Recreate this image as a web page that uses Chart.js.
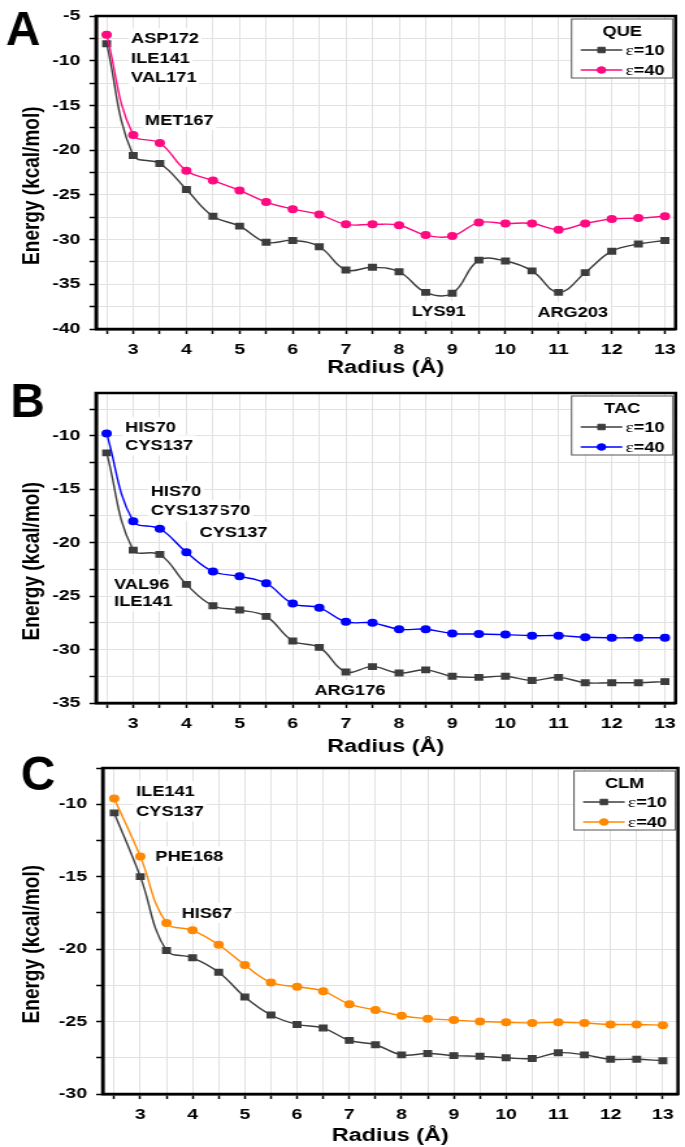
<!DOCTYPE html>
<html>
<head>
<meta charset="utf-8">
<script src="https://cdn.jsdelivr.net/npm/chart.js@4.4.1/dist/chart.umd.min.js"></script>
<style>
  html, body { margin: 0; padding: 0; background: #fff; }
  #wrap { position: relative; width: 685px; height: 1147px; overflow: hidden; }
  canvas { position: absolute; left: 0; }
</style>
</head>
<body>
<div id="wrap">
  <canvas id="chartA"></canvas>
  <canvas id="chartB"></canvas>
  <canvas id="chartC"></canvas>
</div>
<script>
// radius values (Å) shared by all three panels
const radius = [2.5, 3, 3.5, 4, 4.5, 5, 5.5, 6, 6.5, 7, 7.5, 8, 8.5, 9, 9.5, 10, 10.5, 11, 11.5, 12, 12.5, 13];
const legendLabels = ['ε=10', 'ε=40'];

// Panel A - QUE
const queE10 = [-8.1, -20.6, -21.5, -24.4, -27.4, -28.5, -30.3, -30.1, -30.8, -33.4, -33.1, -33.6, -35.9, -36.0, -32.3, -32.4, -33.5, -35.9, -33.7, -31.3, -30.5, -30.1];
const queE40 = [-7.1, -18.3, -19.2, -22.3, -23.4, -24.5, -25.8, -26.6, -27.2, -28.3, -28.3, -28.4, -29.5, -29.6, -28.1, -28.2, -28.2, -28.9, -28.2, -27.7, -27.6, -27.4];
const queNotes = [
    { text: 'ASP172', x: 2.96, y: -7.5 },
    { text: 'ILE141', x: 2.96, y: -9.7 },
    { text: 'VAL171', x: 2.96, y: -11.8 },
    { text: 'MET167', x: 3.22, y: -16.6 },
    { text: 'LYS91', x: 8.24, y: -38.0 },
    { text: 'ARG203', x: 10.6, y: -38.1 }
];

// Panel B - TAC
const tacE10 = [-11.6, -20.7, -21.1, -23.9, -25.9, -26.3, -26.9, -29.2, -29.8, -32.1, -31.6, -32.2, -31.9, -32.5, -32.6, -32.5, -32.9, -32.6, -33.1, -33.1, -33.1, -33.0];
const tacE40 = [-9.8, -18.0, -18.7, -20.9, -22.7, -23.15, -23.8, -25.7, -26.1, -27.4, -27.5, -28.1, -28.1, -28.5, -28.55, -28.6, -28.7, -28.7, -28.85, -28.9, -28.9, -28.9];
const tacNotes = [
    { text: 'HIS70', x: 2.85, y: -9.2 },
    { text: 'CYS137', x: 2.85, y: -10.9 },
    { text: 'HIS70', x: 4.25, y: -17.0 },
    { text: 'CYS137', x: 4.25, y: -19.0 },
    { text: 'HIS70', x: 3.33, y: -15.2 },
    { text: 'CYS137', x: 3.33, y: -17.0 },
    { text: 'VAL96', x: 2.64, y: -23.9 },
    { text: 'ILE141', x: 2.64, y: -25.5 },
    { text: 'ARG176', x: 6.41, y: -33.8 }
];

// Panel C - CLM
const clmE10 = [-10.6, -15.0, -20.1, -20.6, -21.6, -23.3, -24.55, -25.2, -25.45, -26.3, -26.6, -27.3, -27.2, -27.35, -27.4, -27.5, -27.55, -27.15, -27.3, -27.6, -27.6, -27.7];
const clmE40 = [-9.6, -13.6, -18.2, -18.7, -19.7, -21.1, -22.3, -22.6, -22.9, -23.8, -24.2, -24.6, -24.8, -24.9, -25.0, -25.05, -25.1, -25.05, -25.1, -25.2, -25.2, -25.25];
const clmNotes = [
    { text: 'ILE141', x: 2.92, y: -9.1 },
    { text: 'CYS137', x: 2.92, y: -10.5 },
    { text: 'PHE168', x: 3.29, y: -13.6 },
    { text: 'HIS67', x: 3.79, y: -17.5 }
];

const GRAY = '#3d3d3d';
const FONT = "'Liberation Sans', Arial, sans-serif";
// the original figure is stretched sideways, so draw narrower and stretch with css
const STRETCH = 1.3;
const LOGICAL_W = Math.round(685 / STRETCH);

Chart.defaults.font.family = FONT;
Chart.defaults.color = '#000';

// frame, in-plot legend, residue labels and panel letter
const panelPlugin = {
    id: 'panel',
    afterDatasetsDraw(chart, args, opts) {
        const { ctx, scales: { x, y } } = chart;
        ctx.save();
        ctx.font = 'bold 14px ' + FONT;
        ctx.textBaseline = 'middle';
        opts.notes.forEach(n => {
            const px = x.getPixelForValue(n.x);
            const py = y.getPixelForValue(n.y);
            const w = ctx.measureText(n.text).width;
            ctx.fillStyle = '#fff';
            ctx.fillRect(px - 2, py - 10, w + 4, 20);
            ctx.fillStyle = '#000';
            ctx.fillText(n.text, px, py + 1);
        });
        ctx.restore();
    },
    afterDraw(chart, args, opts) {
        const { ctx, chartArea: ca } = chart;
        ctx.save();
        ctx.strokeStyle = '#000';
        ctx.lineWidth = 2.5;
        ctx.strokeRect(ca.left, ca.top, ca.right - ca.left, ca.bottom - ca.top);

        // legend box
        const w = 78, h = 59;
        const x0 = ca.right - 2 - w, y0 = ca.top + 3;
        ctx.fillStyle = '#fff';
        ctx.fillRect(x0, y0, w, h);
        ctx.strokeStyle = '#555';
        ctx.lineWidth = 1;
        ctx.strokeRect(x0, y0, w, h);
        ctx.fillStyle = '#000';
        ctx.font = 'bold 14px ' + FONT;
        ctx.textAlign = 'center';
        ctx.textBaseline = 'middle';
        ctx.fillText(opts.title, x0 + w / 2, y0 + 13);
        chart.data.datasets.forEach((ds, i) => {
            const ly = y0 + 31 + i * 20;
            ctx.strokeStyle = ds.borderColor;
            ctx.fillStyle = ds.backgroundColor;
            ctx.lineWidth = 1.4;
            ctx.beginPath();
            ctx.moveTo(x0 + 7, ly);
            ctx.lineTo(x0 + 39, ly);
            ctx.stroke();
            ctx.lineWidth = 1;
            Chart.helpers.drawPoint(ctx, { pointStyle: ds.pointStyle, radius: ds.pointRadius, borderWidth: 1, rotation: 0 }, x0 + 23, ly);
            ctx.fillStyle = '#000';
            ctx.textAlign = 'left';
            ctx.font = "15px 'Liberation Serif', serif";
            ctx.fillText(ds.label[0], x0 + 41.5, ly + 1);
            const ew = ctx.measureText(ds.label[0]).width;
            ctx.font = 'bold 14px ' + FONT;
            ctx.fillText(ds.label.slice(1), x0 + 41.5 + ew, ly + 1);
        });

        // panel letter
        ctx.translate(opts.letterX, opts.letterY);
        ctx.scale(0.75, 1);
        ctx.font = 'bold 49px ' + FONT;
        ctx.textAlign = 'center';
        ctx.textBaseline = 'alphabetic';
        ctx.fillStyle = '#000';
        ctx.fillText(opts.letter, 0, 0);
        ctx.restore();
    }
};

function makePanel(cfg) {
    const canvas = document.getElementById(cfg.id);
    canvas.width = LOGICAL_W;
    canvas.height = cfg.height;
    canvas.style.top = cfg.top + 'px';
    canvas.style.width = '685px';
    canvas.style.height = cfg.height + 'px';
    const toPoints = ys => radius.map((r, i) => ({ x: r, y: ys[i] }));
    const tickFont = { size: 15, weight: 'bold' };
    const grid = { color: '#e2e2e2', lineWidth: 1, tickColor: '#000', tickLength: 5, tickWidth: 1.5 };

    return new Chart(canvas, {
        type: 'line',
        data: {
            datasets: [{
                label: legendLabels[0],
                data: toPoints(cfg.e10),
                borderColor: GRAY,
                backgroundColor: GRAY,
                pointStyle: 'rect',
                pointRadius: 3.9,
                borderWidth: 1.4,
                tension: 0.4,
                order: 1
            }, {
                label: legendLabels[1],
                data: toPoints(cfg.e40),
                borderColor: cfg.color,
                backgroundColor: cfg.color,
                pointStyle: 'circle',
                pointRadius: 3.3,
                borderWidth: 1.4,
                tension: 0.4,
                order: 0
            }]
        },
        options: {
            responsive: false,
            animation: false,
            layout: { padding: { top: cfg.padTop, right: cfg.padRight, left: 0, bottom: 0 } },
            plugins: {
                legend: { display: false },
                tooltip: { enabled: false },
                panel: { notes: cfg.notes, title: cfg.title, letter: cfg.letter, letterX: cfg.letterX, letterY: cfg.letterY }
            },
            scales: {
                x: {
                    type: 'linear',
                    min: cfg.xMin,
                    max: cfg.xMax,
                    border: { color: '#000', width: 2.5 },
                    grid: grid,
                    ticks: {
                        stepSize: 0.5,
                        includeBounds: false,
                        autoSkip: false,
                        maxRotation: 0,
                        padding: 7,
                        font: tickFont,
                        color: '#000',
                        callback: v => Number.isInteger(v) ? String(v) : ''
                    },
                    title: { display: true, text: 'Radius (Å)', font: { size: 18, weight: 'bold' }, color: '#000', padding: { top: 0, bottom: 0 } },
                    afterFit: s => { s.height = cfg.xAxisH; }
                },
                y: {
                    min: cfg.yMin,
                    max: cfg.yMax,
                    border: { color: '#000', width: 2.5 },
                    grid: grid,
                    ticks: {
                        stepSize: 2.5,
                        includeBounds: false,
                        autoSkip: false,
                        padding: 7,
                        font: tickFont,
                        color: '#000',
                        callback: v => v % 5 === 0 ? String(v) : ''
                    },
                    // trailing spaces push the title a little below the axis centre, as in the original
                    title: { display: true, text: 'Energy (kcal/mol)     ', font: { size: 19, weight: 'bold' }, color: '#000', padding: { top: 13, bottom: 0 } },
                    afterFit: s => { s.width = cfg.yAxisW; }
                }
            }
        },
        plugins: [panelPlugin]
    });
}

makePanel({
    id: 'chartA', top: 0, height: 379, padTop: 0, padRight: 5.5, xAxisH: 50, yAxisW: 73.85,
    xMin: 2.3, xMax: 13.2, yMin: -40, yMax: -5,
    e10: queE10, e40: queE40, color: '#ff0a80', title: 'QUE', notes: queNotes,
    letter: 'A', letterX: 17.7, letterY: 45
});
makePanel({
    id: 'chartB', top: 377, height: 381, padTop: 0, padRight: 4.7, xAxisH: 55, yAxisW: 73.85,
    xMin: 2.3, xMax: 13.2, yMin: -35, yMax: -6,
    e10: tacE10, e40: tacE40, color: '#0000ff', title: 'TAC', notes: tacNotes,
    letter: 'B', letterX: 21.2, letterY: 40
});
makePanel({
    id: 'chartC', top: 750, height: 397, padTop: 18, padRight: 1.6, xAxisH: 53, yAxisW: 79,
    xMin: 2.28, xMax: 13.29, yMin: -30, yMax: -7.5,
    e10: clmE10, e40: clmE40, color: '#ff8800', title: 'CLM', notes: clmNotes,
    letter: 'C', letterX: 29.2, letterY: 40
});
</script>
</body>
</html>
